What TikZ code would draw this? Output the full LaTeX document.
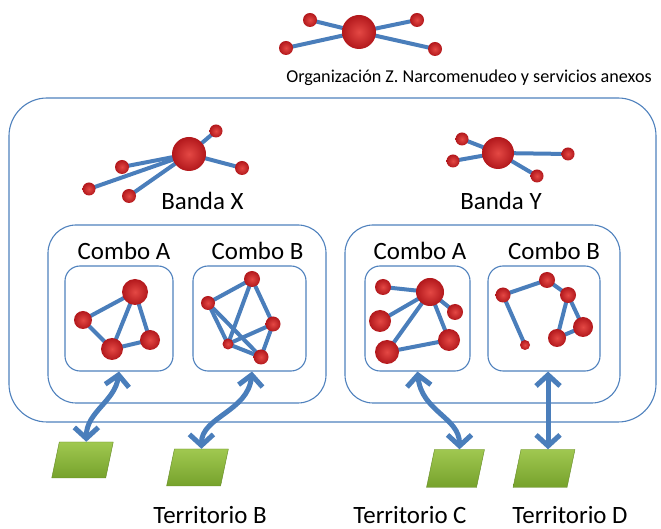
\documentclass[tikz,border=0pt]{standalone}
\usepackage{fontspec}
\setmainfont{Carlito}
\usetikzlibrary{arrows.meta}
\usetikzlibrary{backgrounds}

\definecolor{boxblue}{RGB}{79,129,189}
\definecolor{linkblue}{RGB}{74,126,187}
\definecolor{redlight}{RGB}{228,72,68}
\definecolor{reddark}{RGB}{178,24,28}
\definecolor{greentop}{RGB}{160,200,80}
\definecolor{greenbot}{RGB}{118,162,44}

\tikzset{
  reddot/.style={circle,inner sep=0pt,minimum size=#1,shading=radial,inner color=redlight,outer color=reddark},
  link/.style={draw=linkblue,line width=4bp},
  boxnode/.style={draw=boxblue,line width=1.1bp,rounded corners=#1,inner sep=0pt},
  terr/.style={xslant=0.21,inner sep=0pt,minimum width=54bp,minimum height=38bp,top color=greentop,bottom color=greenbot,draw=greenbot!85!black,line width=0.4bp},
  flow/.style={draw=linkblue,line width=5bp,{Straight Barb[length=11bp,width=24bp]}-{Straight Barb[length=11bp,width=24bp]}},
  lbl/.style={inner sep=0pt,anchor=base,font=\fontsize{25}{27}\selectfont},
}

\begin{document}
\begin{tikzpicture}[>=latex,line join=round,line cap=round]
\useasboundingbox (0bp,0bp) rectangle (661bp,529bp);
%%
\node (node_org) at (332.5bp,269bp) [boxnode=38bp,minimum width=647bp,minimum height=324bp] {};
  \node (node_bx) at (187bp,215bp) [boxnode=28bp,minimum width=278bp,minimum height=178bp] {};
  \node (node_by) at (482.5bp,215bp) [boxnode=28bp,minimum width=275bp,minimum height=178bp] {};
  \node (node_cxa) at (119bp,210.5bp) [boxnode=15bp,minimum width=108bp,minimum height=105bp] {};
  \node (node_cxb) at (249.5bp,210.5bp) [boxnode=15bp,minimum width=113bp,minimum height=105bp] {};
  \node (node_cya) at (417.5bp,210.5bp) [boxnode=15bp,minimum width=105bp,minimum height=105bp] {};
  \node (node_cyb) at (544bp,210.5bp) [boxnode=15bp,minimum width=112bp,minimum height=105bp] {};
%
\node (node_title) at (469bp,446bp) [lbl,font=\fontsize{18.2}{20}\selectfont] {Organización Z. Narcomenudeo y servicios anexos};
  \node (node_lbx) at (202.5bp,319bp) [lbl] {Banda X};
  \node (node_lby) at (501bp,319bp) [lbl] {Banda Y};
  \node (node_lxa) at (124bp,269bp) [lbl] {Combo A};
  \node (node_lxb) at (257.5bp,269bp) [lbl] {Combo B};
  \node (node_lya) at (420bp,269bp) [lbl] {Combo A};
  \node (node_lyb) at (554bp,269bp) [lbl] {Combo B};
  \node (node_ltb) at (210bp,6bp) [lbl] {Territorio B};
  \node (node_ltc) at (410bp,6bp) [lbl] {Territorio C};
  \node (node_ltd) at (570bp,6bp) [lbl] {Territorio D};
%% organizacion Z
\node (node_z0) at (359bp,497bp) [reddot=34bp] {};
  \node (node_z1) at (310bp,509bp) [reddot=14bp] {};
  \node (node_z2) at (286bp,481bp) [reddot=14bp] {};
  \node (node_z3) at (417bp,509bp) [reddot=14bp] {};
  \node (node_z4) at (435bp,480bp) [reddot=14bp] {};
%% banda X
\node (node_x0) at (189bp,375bp) [reddot=34bp] {};
  \node (node_x1) at (216bp,398bp) [reddot=13bp] {};
  \node (node_x2) at (242bp,361bp) [reddot=14bp] {};
  \node (node_x3) at (122bp,362bp) [reddot=14bp] {};
  \node (node_x4) at (129bp,333bp) [reddot=14bp] {};
  \node (node_x5) at (89bp,340bp) [reddot=13bp] {};
%% banda Y
\node (node_y0) at (498bp,376bp) [reddot=32bp] {};
  \node (node_y1) at (462bp,390bp) [reddot=13bp] {};
  \node (node_y2) at (453bp,368bp) [reddot=13bp] {};
  \node (node_y3) at (568bp,375bp) [reddot=13bp] {};
  \node (node_y4) at (537bp,353bp) [reddot=13bp] {};
%% combos
\node (node_a0) at (135bp,237bp) [reddot=26bp] {};
  \node (node_a1) at (83bp,209bp) [reddot=18bp] {};
  \node (node_a2) at (112bp,180bp) [reddot=22bp] {};
  \node (node_a3) at (150bp,189bp) [reddot=20bp] {};
  \node (node_b0) at (252bp,250bp) [reddot=16bp] {};
  \node (node_b1) at (208bp,226bp) [reddot=14bp] {};
  \node (node_b2) at (273bp,205bp) [reddot=15bp] {};
  \node (node_b3) at (228bp,185bp) [reddot=11bp] {};
  \node (node_b4) at (261bp,172bp) [reddot=15bp] {};
  \node (node_c0) at (430bp,237bp) [reddot=28bp] {};
  \node (node_c1) at (383bp,242bp) [reddot=16bp] {};
  \node (node_c2) at (380bp,208bp) [reddot=22bp] {};
  \node (node_c3) at (455bp,217bp) [reddot=16bp] {};
  \node (node_c4) at (449bp,189bp) [reddot=22bp] {};
  \node (node_c5) at (387bp,177bp) [reddot=24bp] {};
  \node (node_d0) at (547bp,249bp) [reddot=16bp] {};
  \node (node_d1) at (503bp,234bp) [reddot=15bp] {};
  \node (node_d2) at (568bp,234bp) [reddot=16bp] {};
  \node (node_d3) at (583bp,202bp) [reddot=20bp] {};
  \node (node_d4) at (557bp,191bp) [reddot=18bp] {};
  \node (node_d5) at (525bp,184bp) [reddot=10bp] {};
%% territorios
\node (node_t1) at (82.5bp,69bp) [terr,minimum height=36bp] {};
  \node (node_t2) at (197.5bp,61.5bp) [terr,minimum height=37bp] {};
  \node (node_t3) at (455.5bp,60.5bp) [terr,minimum width=50bp] {};
  \node (node_t4) at (544bp,60.5bp) [terr] {};
%
\begin{pgfonlayer}{background}
  \draw [link] (node_z0.center) -- (node_z1.center);
  \draw [link] (node_z0.center) -- (node_z2.center);
  \draw [link] (node_z0.center) -- (node_z3.center);
  \draw [link] (node_z0.center) -- (node_z4.center);
  \draw [link] (node_x0.center) -- (node_x1.center);
  \draw [link] (node_x0.center) -- (node_x2.center);
  \draw [link] (node_x0.center) -- (node_x3.center);
  \draw [link] (node_x0.center) -- (node_x4.center);
  \draw [link] (node_x0.center) -- (node_x5.center);
  \draw [link] (node_y0.center) -- (node_y1.center);
  \draw [link] (node_y0.center) -- (node_y2.center);
  \draw [link] (node_y0.center) -- (node_y3.center);
  \draw [link] (node_y0.center) -- (node_y4.center);
  \draw [link] (node_a0.center) -- (node_a1.center);
  \draw [link] (node_a0.center) -- (node_a2.center);
  \draw [link] (node_a0.center) -- (node_a3.center);
  \draw [link] (node_a1.center) -- (node_a2.center);
  \draw [link] (node_a2.center) -- (node_a3.center);
  \draw [link] (node_b0.center) -- (node_b1.center);
  \draw [link] (node_b0.center) -- (node_b2.center);
  \draw [link] (node_b0.center) -- (node_b3.center);
  \draw [link] (node_b1.center) -- (node_b3.center);
  \draw [link] (node_b1.center) -- (node_b4.center);
  \draw [link] (node_b2.center) -- (node_b4.center);
  \draw [link] (node_b2.center) -- (node_b3.center);
  \draw [link] (node_b3.center) -- (node_b4.center);
  \draw [link] (node_c0.center) -- (node_c1.center);
  \draw [link] (node_c0.center) -- (node_c2.center);
  \draw [link] (node_c0.center) -- (node_c3.center);
  \draw [link] (node_c0.center) -- (node_c4.center);
  \draw [link] (node_c0.center) -- (node_c5.center);
  \draw [link] (node_c5.center) -- (node_c4.center);
  \draw [link] (node_d1.center) -- (node_d0.center);
  \draw [link] (node_d0.center) -- (node_d2.center);
  \draw [link] (node_d2.center) -- (node_d3.center);
  \draw [link] (node_d2.center) -- (node_d4.center);
  \draw [link] (node_d4.center) -- (node_d3.center);
  \draw [link] (node_d1.center) -- (node_d5.center);
\end{pgfonlayer}
%
\draw [flow] (node_cxa.south) ..controls +(-4bp,-30bp) and +(0bp,30bp) .. (node_t1.north);
  \draw [flow] ([xshift=2.5bp]node_cxb.south) ..controls +(-4bp,-40bp) and +(0bp,32bp) .. (node_t2.north);
  \draw [flow] (node_cya.south) ..controls +(4bp,-40bp) and +(0bp,32bp) .. (node_t3.north);
  \draw [flow] (node_t4.north |- node_cyb.south) -- (node_t4.north);
%
\end{tikzpicture}
\end{document}
